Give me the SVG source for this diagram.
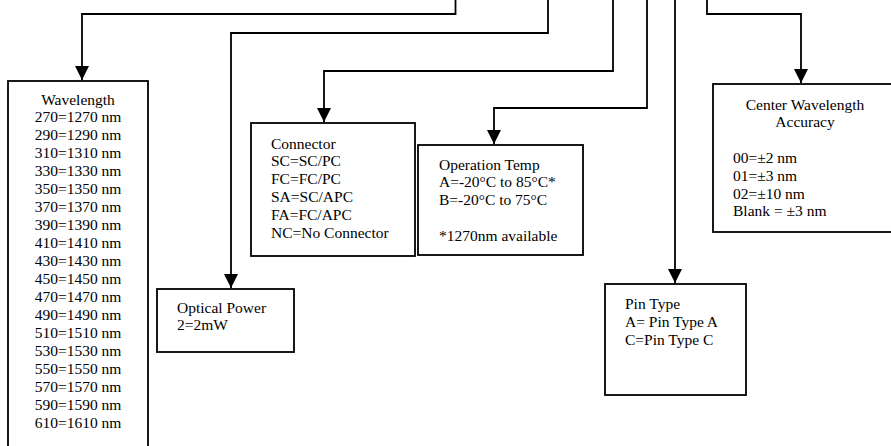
<svg xmlns="http://www.w3.org/2000/svg" width="891" height="446" viewBox="0 0 891 446">
<style>
.box{fill:#fff;stroke:#000;stroke-width:1.8}
.con{fill:none;stroke:#000;stroke-width:1.8;marker-end:url(#arr)}
text{font-family:"Liberation Serif","Times New Roman",serif;font-size:15.5px;fill:#000}
.c{text-anchor:middle}
</style>
<defs>
<marker id="arr" markerUnits="userSpaceOnUse" markerWidth="16" markerHeight="14" viewBox="0 0 16 14" refX="15" refY="7" orient="auto">
<path d="M1,0 L15,7 L1,14 Z" fill="#000"/>
</marker>
</defs>
<g id="connectors">
<path class="con" d="M455.5,0 V14 H82 V80"/>
<path class="con" d="M548,0 V33 H231 V288"/>
<path class="con" d="M613,0 V71 H324 V122"/>
<path class="con" d="M647,0 V108 H494 V144"/>
<path class="con" d="M675,0 V283"/>
<path class="con" d="M707,0 V14 H801 V83"/>
</g>
<g id="wavelength">
<rect class="box" x="8" y="81" width="140" height="380"/>
<text class="c" x="78" y="104.5">Wavelength</text>
<text class="c" x="78" y="122">270=1270 nm</text>
<text class="c" x="78" y="140">290=1290 nm</text>
<text class="c" x="78" y="158">310=1310 nm</text>
<text class="c" x="78" y="175.9">330=1330 nm</text>
<text class="c" x="78" y="193.9">350=1350 nm</text>
<text class="c" x="78" y="211.9">370=1370 nm</text>
<text class="c" x="78" y="229.8">390=1390 nm</text>
<text class="c" x="78" y="247.8">410=1410 nm</text>
<text class="c" x="78" y="265.8">430=1430 nm</text>
<text class="c" x="78" y="283.7">450=1450 nm</text>
<text class="c" x="78" y="301.7">470=1470 nm</text>
<text class="c" x="78" y="319.7">490=1490 nm</text>
<text class="c" x="78" y="337.6">510=1510 nm</text>
<text class="c" x="78" y="355.6">530=1530 nm</text>
<text class="c" x="78" y="373.6">550=1550 nm</text>
<text class="c" x="78" y="391.6">570=1570 nm</text>
<text class="c" x="78" y="409.5">590=1590 nm</text>
<text class="c" x="78" y="427.5">610=1610 nm</text>
</g>
<g id="optical-power">
<rect class="box" x="157" y="289" width="137" height="63"/>
<text x="177" y="312.5">Optical Power</text>
<text x="177" y="329.5">2=2mW</text>
</g>
<g id="connector">
<rect class="box" x="251" y="123" width="164" height="133"/>
<text x="271" y="148.5">Connector</text>
<text x="271" y="166.4">SC=SC/PC</text>
<text x="271" y="184.3">FC=FC/PC</text>
<text x="271" y="202.2">SA=SC/APC</text>
<text x="271" y="220.1">FA=FC/APC</text>
<text x="271" y="238">NC=No Connector</text>
</g>
<g id="operation-temp">
<rect class="box" x="418" y="145" width="165" height="110"/>
<text x="439" y="169.5">Operation Temp</text>
<text x="439" y="187.4">A=-20°C to 85°C*</text>
<text x="439" y="205.3">B=-20°C to 75°C</text>
<text x="439" y="241">*1270nm available</text>
</g>
<g id="pin-type">
<rect class="box" x="605" y="284" width="141" height="111"/>
<text x="625" y="309">Pin Type</text>
<text x="625" y="327">A= Pin Type A</text>
<text x="625" y="345">C=Pin Type C</text>
</g>
<g id="center-wavelength">
<rect class="box" x="713" y="84" width="180" height="148"/>
<text class="c" x="805" y="109.5">Center Wavelength</text>
<text class="c" x="805" y="127.3">Accuracy</text>
<text x="733" y="163">00=±2 nm</text>
<text x="733" y="180.8">01=±3 nm</text>
<text x="733" y="198.6">02=±10 nm</text>
<text x="733" y="216.4">Blank = ±3 nm</text>
</g>
</svg>
